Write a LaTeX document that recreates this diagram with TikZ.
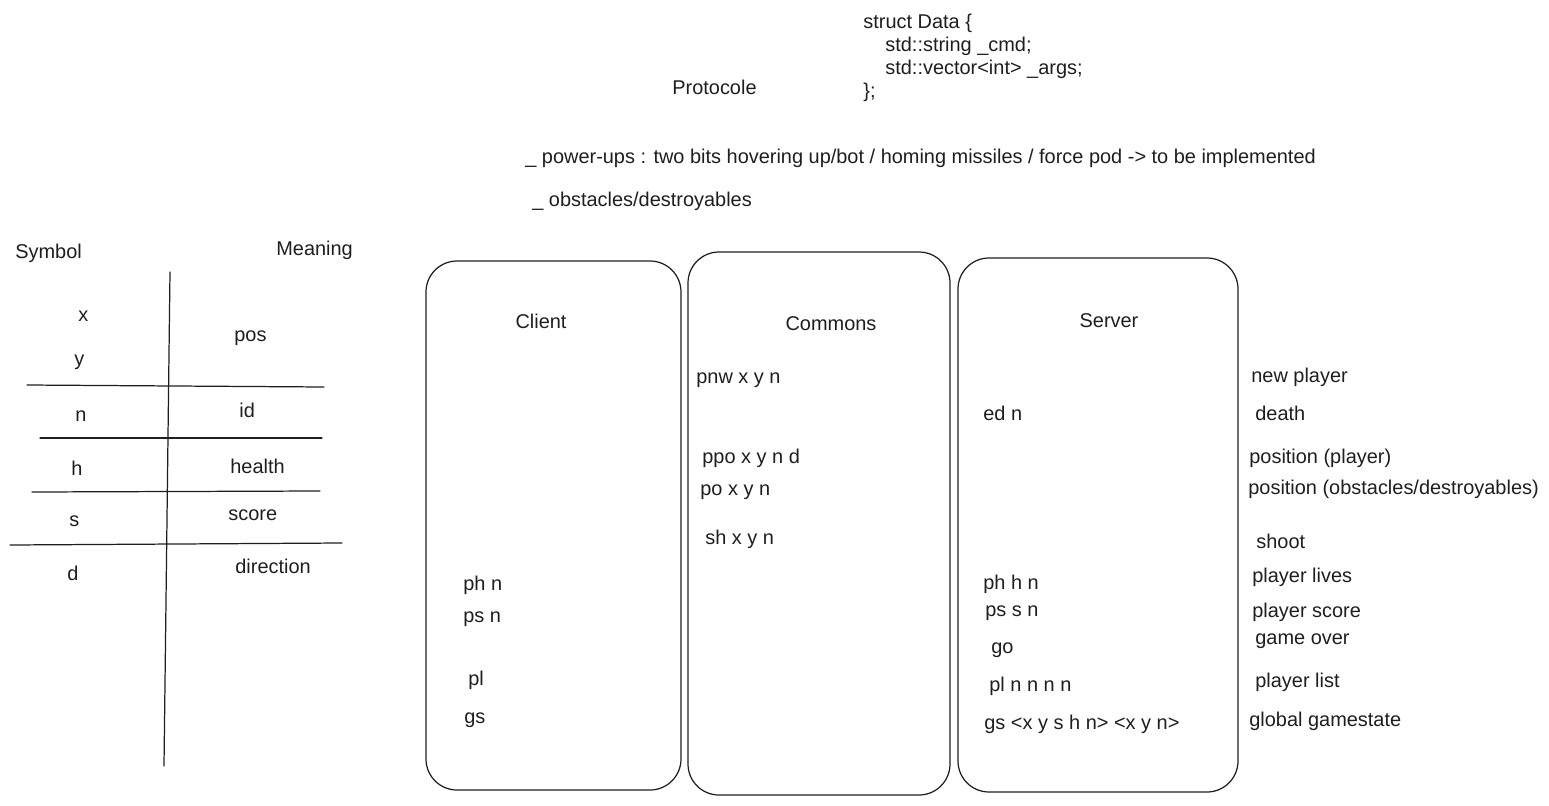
\documentclass[tikz,border=0pt]{standalone}
\usepackage{fontspec}
\setmainfont{Liberation Sans}
\definecolor{inchiostro}{HTML}{1E1E1E}
\begin{document}
\begin{tikzpicture}[
	x=0.02cm, y=-0.02cm,
	testo/.style={anchor=west, inner sep=0pt, yshift=-1.1pt, text=inchiostro, font=\fontsize{11.35pt}{13pt}\selectfont},
	titolo/.style={testo, anchor=center},
	riga/.style={line width=0.7pt, line cap=round, inchiostro},
	scatola/.style={line width=0.7pt, draw=inchiostro, rounded corners=0.62cm},
	]
	\useasboundingbox (0,0) rectangle (1549,805);
	
	%% =========================================================
	%% intestazione: struttura e protocollo
	%% =========================================================
	\node[testo] (sA) at (863,21) {struct Data \{};
	\node[testo] (sB) at (885,44) {std::string \_cmd;};
	\node[testo] (sC) at (885,67) {std::vector<int> \_args;};
	\node[testo] (sD) at (863,90) {\};};
	\node[testo] (prot) at (672,85) {Protocole};
	\node[testo] (pup) at (525,156) {\_ power-ups : two bits hovering up/bot / homing missiles / force pod -> to be implemented};
	\node[testo] (obs) at (532,199) {\_ obstacles/destroyables};
	
	%% =========================================================
	%% tabella dei simboli
	%% =========================================================
	\node[testo] (sym) at (15,251) {Symbol};
	\node[testo] (mea) at (276,248) {Meaning};
	\draw[riga] (170,272)--(164,766);
	\draw[riga] (27,385)--(324,387);
	\draw[riga] (40,438)--(322,438);
	\draw[riga] (32,492)--(320,491);
	\draw[riga] (10,545)--(342,543);
	\foreach \n/\xx/\yy/\t in {kx/78/314/x, ky/74/360/y, kn/75/414/n,
		kh/71/466/h, ks/69/519/s, kd/67/571/d,
		vpos/234/336/pos, vid/239/408/id, vhe/230/464/health,
		vsc/228/513/score, vdi/235/564/direction}
	\node[testo] (\n) at (\xx,\yy) {\t};
	
	%% =========================================================
	%% le tre colonne
	%% =========================================================
	\draw[scatola] (426,261) rectangle (681,790);
	\draw[scatola] (688,252) rectangle (950,795);
	\draw[scatola] (958,258) rectangle (1238,792);
	\node[titolo] (cli) at (541,319) {Client};
	\node[titolo] (com) at (831,322) {Commons};
	\node[titolo] (ser) at (1109,319) {Server};
	%% client
	\node[testo] (c1) at (463,583) {ph n};
	\node[testo] (c2) at (463,617) {ps n};
	\node[testo] (c3) at (468,678) {pl};
	\node[testo] (c4) at (464,718) {gs};
	%% commons
	\node[testo] (m1) at (696,378) {pnw x y n};
	\node[testo] (m2) at (702,456) {ppo x y n d};
	\node[testo] (m3) at (700,490) {po x y n};
	\node[testo] (m4) at (705,537) {sh x y n};
	%% server
	\node[testo] (e1) at (983,411) {ed n};
	\node[testo] (e2) at (983,582) {ph h n};
	\node[testo] (e3) at (985,611) {ps s n};
	\node[testo] (e4) at (991,648) {go};
	\node[testo] (e5) at (989,684) {pl n n n n};
	\node[testo] (e6) at (984,722) {gs <x y s h n> <x y n>};
	
	%% significati a destra
	\node[testo] (d1) at (1251,375) {new player};
	\node[testo] (d2) at (1255,411) {death};
	\node[testo] (d3) at (1249,456) {position (player)};
	\node[testo] (d4) at (1248,487) {position (obstacles/destroyables)};
	\node[testo] (d5) at (1256,539) {shoot};
	\node[testo] (d6) at (1252,575) {player lives};
	\node[testo] (d7) at (1252,610) {player score};
	\node[testo] (d8) at (1255,639) {game over};
	\node[testo] (d9) at (1255,680) {player list};
	\node[testo] (d10) at (1249,719) {global gamestate};
\end{tikzpicture}
\end{document}
